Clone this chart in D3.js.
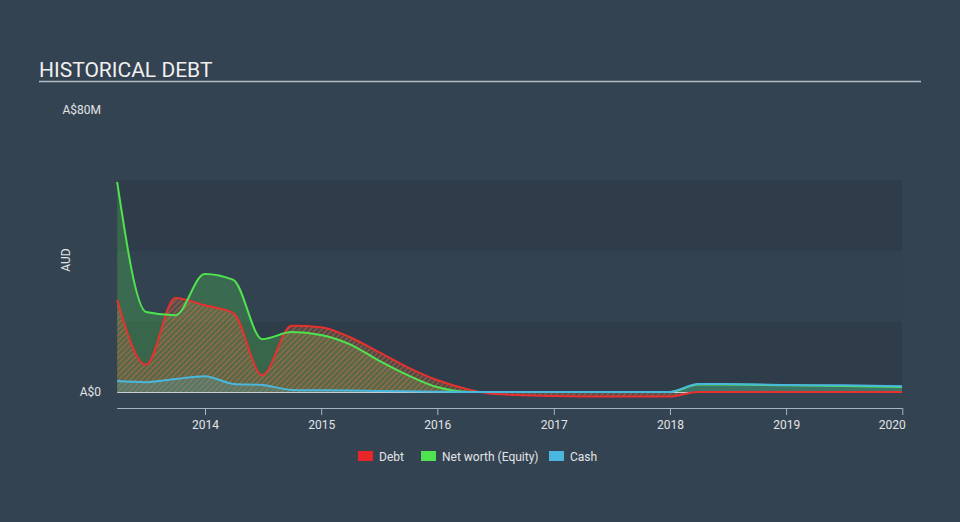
<html>
<head>
<meta http-equiv="Content-Type" content="text/html;charset=UTF-8">
<title>Historical Debt</title>
<style type="text/css">
    *{margin: 0;padding: 0;}
    body{background: #344352;}
    svg{display: block;}
</style>
</head>
<body>
<div class="container"></div>
<script type="text/javascript" src="https://cdn.jsdelivr.net/npm/d3@7/dist/d3.min.js"></script>
<script>
    // data (A$ millions)
    var dates = ["2013-03-31","2013-06-30","2013-09-30","2013-12-31","2014-03-31","2014-06-30",
                 "2014-09-30","2014-12-31","2015-03-31","2015-06-30","2015-09-30","2015-12-31",
                 "2016-03-31","2016-06-30","2016-12-31","2017-06-30","2017-12-31","2018-03-31",
                 "2018-06-30","2018-12-31","2019-06-30","2019-12-31"];
    var debt   = [26.1, 7.7, 26.7, 24.6, 22.4, 4.8, 18.8, 18.4, 15.6, 11.4, 7.0, 3.4,
                  0.9, -0.6, -1.1, -1.3, -1.3, 0, 0, 0, 0, 0];
    var equity = [59.6, 22.7, 21.8, 33.5, 31.8, 15.0, 17.0, 16.2, 13.6, 9.0, 4.8, 1.4,
                  0.1, 0, 0, 0, 0, 2.1, 2.1, 1.9, 1.7, 1.4];
    var cash   = [3.1, 2.8, 3.7, 4.5, 2.3, 2.0, 0.6, 0.5, 0.4, 0.3, 0.2, 0.1,
                  0, 0, 0, 0, 0, 2.3, 2.3, 2.0, 1.9, 1.6];
    var years = [2014, 2015, 2016, 2017, 2018, 2019, 2020];
    var bands = [0, 20, 40, 60];

    var width = 960, height = 522;
    var parse = d3.timeParse("%Y-%m-%d");
    var rows = dates.map(function(d, i){
        return {date: parse(d), debt: debt[i], equity: equity[i], cash: cash[i]};
    });

    var svg = d3.select(".container").append("svg")
        .attr("width", width).attr("height", height)
        .style("font-family", "Roboto, sans-serif");

    var x = d3.scaleTime()
        .domain([new Date(2014, 0, 1), new Date(2020, 0, 1)])
        .range([205, 902.3]);
    var y = d3.scaleLinear().domain([0, 80]).range([392, 110]);
    var x0 = x(rows[0].date), x1 = 902;

    // background bands
    var bandColors = ["#2f3c4a", "#334250", "#2f3c4a"];
    for (var i = 0; i < bands.length - 1; i++) {
        svg.append("rect")
            .attr("x", x0).attr("width", x1 - x0)
            .attr("y", y(bands[i + 1])).attr("height", y(bands[i]) - y(bands[i + 1]))
            .attr("fill", bandColors[i]);
    }

    // hatch pattern for debt
    var defs = svg.append("defs");
    var pat = defs.append("pattern").attr("id", "hatch")
        .attr("patternUnits", "userSpaceOnUse").attr("width", 4).attr("height", 4)
        .attr("patternTransform", "rotate(45)");
    pat.append("rect").attr("width", 4).attr("height", 4).attr("fill", "rgba(200,110,60,0.25)");
    pat.append("line").attr("x1", 0).attr("y1", 0).attr("x2", 0).attr("y2", 4)
        .attr("stroke", "#e0704a").attr("stroke-width", 1.4).attr("stroke-opacity", 0.75);

    var curve = d3.curveMonotoneX;
    function area(key){
        return d3.area().curve(curve)
            .x(function(d){ return x(d.date); })
            .y0(y(0)).y1(function(d){ return y(d[key]); });
    }
    function line(key){
        return d3.line().curve(curve)
            .x(function(d){ return x(d.date); })
            .y(function(d){ return y(d[key]); });
    }

    svg.append("path").datum(rows).attr("d", area("equity"))
        .attr("fill", "#4fe34f").attr("fill-opacity", 0.25);
    svg.append("path").datum(rows).attr("d", area("debt"))
        .attr("fill", "url(#hatch)");
    svg.append("path").datum(rows).attr("d", area("cash"))
        .attr("fill", "#4ab8de").attr("fill-opacity", 0.2);

    // zero line
    svg.append("line").attr("x1", x0).attr("x2", x1)
        .attr("y1", y(0) + 0.5).attr("y2", y(0) + 0.5)
        .attr("stroke", "#c8ccd0").attr("stroke-width", 1);

    svg.append("path").datum(rows).attr("d", line("debt"))
        .attr("fill", "none").attr("stroke", "#e8302e").attr("stroke-width", 2);
    svg.append("path").datum(rows).attr("d", line("equity"))
        .attr("fill", "none").attr("stroke", "#4fe34f").attr("stroke-width", 2);
    svg.append("path").datum(rows).attr("d", line("cash"))
        .attr("fill", "none").attr("stroke", "#4ab8de").attr("stroke-width", 2);

    // x axis
    var axis = svg.append("g").attr("transform", "translate(0,408)")
        .call(d3.axisBottom(x)
            .tickValues(years.map(function(yr){ return new Date(yr, 0, 1); }))
            .tickFormat(d3.timeFormat("%Y"))
            .tickSize(7).tickSizeOuter(0));
    axis.select(".domain").attr("d", "M" + x0 + ",0.5H" + x1).attr("stroke", "#a9b3bd");
    axis.selectAll(".tick line").attr("stroke", "#a9b3bd");
    axis.selectAll(".tick text").attr("fill", "#e2e4e6").attr("font-size", 12)
        .attr("font-family", "Roboto, sans-serif").attr("dy", "0.95em");
    axis.selectAll(".tick:last-child text").attr("text-anchor", "end").attr("x", 3);

    // y labels
    svg.append("text").attr("x", 101).attr("y", y(80) + 4).attr("text-anchor", "end")
        .attr("fill", "#e2e4e6").attr("font-size", 12).text("A$80M");
    svg.append("text").attr("x", 101).attr("y", y(0) + 4).attr("text-anchor", "end")
        .attr("fill", "#e2e4e6").attr("font-size", 12).text("A$0");
    svg.append("text").attr("transform", "translate(70,260) rotate(-90)")
        .attr("text-anchor", "middle").attr("fill", "#e2e4e6").attr("font-size", 12).text("AUD");

    // title
    svg.append("text").attr("x", 39).attr("y", 77).attr("fill", "#f0f0f0")
        .attr("font-size", 21).text("HISTORICAL DEBT");
    svg.append("line").attr("x1", 39).attr("x2", 921).attr("y1", 81.5).attr("y2", 81.5)
        .attr("stroke", "#b4bac2").attr("stroke-width", 1.5);

    // legend
    var legend = [{name: "Debt", color: "#e8262a", x: 358},
                  {name: "Net worth (Equity)", color: "#4fe34f", x: 421},
                  {name: "Cash", color: "#4ab8de", x: 549}];
    var lg = svg.selectAll(".lg").data(legend).enter().append("g")
        .attr("transform", function(d){ return "translate(" + d.x + ",451)"; });
    lg.append("rect").attr("width", 15).attr("height", 10).attr("fill", function(d){ return d.color; });
    lg.append("text").attr("x", 21).attr("y", 9.5).attr("fill", "#e2e4e6")
        .attr("font-size", 12).text(function(d){ return d.name; });
</script>
</body>
</html>
